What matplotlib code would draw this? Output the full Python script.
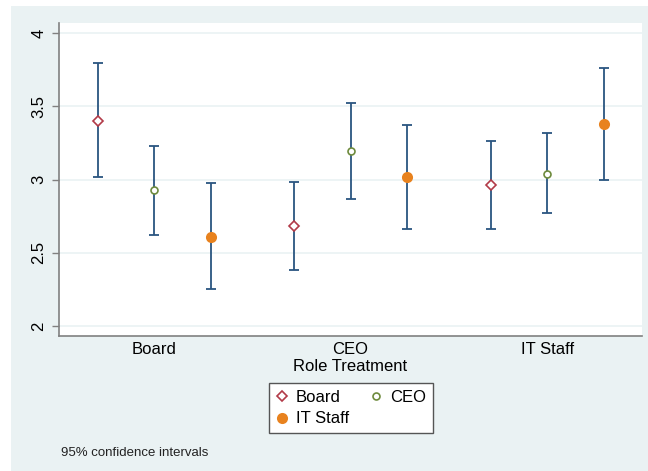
import numpy as np
import matplotlib
matplotlib.use("Agg")
import matplotlib.pyplot as plt
from matplotlib.patches import Rectangle
from matplotlib.lines import Line2D

plt.rcParams["font.family"] = ["Liberation Sans", "DejaVu Sans"]

# role treatment groups on the x axis
groups = ["Board", "CEO", "IT Staff"]
series = ["Board", "CEO", "IT Staff"]

# point estimates and 95% CI bounds, one value per group
board_mean = [3.40, 2.685, 2.96]
board_lo = [3.015, 2.385, 2.66]
board_hi = [3.795, 2.985, 3.265]

ceo_mean = [2.925, 3.195, 3.04]
ceo_lo = [2.62, 2.87, 2.77]
ceo_hi = [3.23, 3.525, 3.32]

it_mean = [2.61, 3.015, 3.38]
it_lo = [2.25, 2.66, 3.0]
it_hi = [2.975, 3.375, 3.76]

BG = "#eaf2f3"
NAVY = "#2a5580"

fig = plt.figure(figsize=(6.48, 4.71), dpi=100)
fig.patch.set_facecolor("white")
fig.patches.append(Rectangle((11 / 648, 0), 1, (471 - 6) / 471,
                             transform=fig.transFigure, facecolor=BG,
                             edgecolor="none", zorder=-10))

ax = fig.add_axes([59 / 648, (471 - 336) / 471, (642 - 59) / 648, (336 - 23) / 471])
ax.set_zorder(1)
ax.set_facecolor("white")

x = np.arange(1, len(groups) + 1)
offset = 0.2875
styles = [
    dict(marker="D", ms=5, mfc="white", mec="#b23a48", mew=1.2),
    dict(marker="o", ms=5, mfc="white", mec="#6e8b3d", mew=1.2),
    dict(marker="o", ms=8, mfc="#e8821e", mec="#e8821e", mew=0),
]
data = [(board_mean, board_lo, board_hi),
        (ceo_mean, ceo_lo, ceo_hi),
        (it_mean, it_lo, it_hi)]

handles = []
for i, ((m, lo, hi), st) in enumerate(zip(data, styles)):
    m, lo, hi = np.array(m), np.array(lo), np.array(hi)
    xs = x + (i - 1) * offset
    ax.errorbar(xs, m, yerr=[m - lo, hi - m], fmt="none", ecolor=NAVY,
                elinewidth=1.3, capsize=3.4, capthick=1.3, zorder=2)
    ax.plot(xs, m, linestyle="none", zorder=3, **st)
    handles.append(Line2D([], [], linestyle="none", **st))

ax.set_xlim(0.5165, 3.483)
ax.set_ylim(1.932, 4.068)
ax.set_yticks([2, 2.5, 3, 3.5, 4])
ax.set_yticklabels(["2", "2.5", "3", "3.5", "4"], rotation=90, va="center")
ax.set_xticks(x)
ax.set_xticklabels(groups)
ax.yaxis.grid(True, color=BG, linewidth=1.2)
ax.set_axisbelow(True)

for s in ["top", "right"]:
    ax.spines[s].set_visible(False)
for s in ["left", "bottom"]:
    ax.spines[s].set_color("#808080")
    ax.spines[s].set_linewidth(1.2)

ax.tick_params(axis="y", length=5, width=1, color="#808080", labelsize=12, pad=4)
ax.tick_params(axis="x", length=0, labelsize=12, pad=4)
ax.set_xlabel("Role Treatment", fontsize=12, labelpad=2)

# column-first fill: Board/IT Staff in col 1, CEO in col 2
order = [0, 2, 1]
leg = fig.legend([handles[k] for k in order], [series[k] for k in order],
                 ncol=2, loc="upper left",
                 bbox_to_anchor=(269 / 648, (471 - 383) / 471),
                 bbox_transform=fig.transFigure, fontsize=12,
                 frameon=True, fancybox=False, framealpha=1,
                 handlelength=0.7, handletextpad=0.5, columnspacing=1.3,
                 borderpad=0.4, labelspacing=0.4, borderaxespad=0)
leg.get_frame().set_edgecolor("#555555")
leg.get_frame().set_linewidth(1)
leg.get_frame().set_facecolor("white")

fig.text(61 / 648, (471 - 453) / 471, "95% confidence intervals",
         fontsize=9.5, va="center", ha="left", color="#222222")

fig.savefig("out.png", dpi=100, facecolor=fig.get_facecolor())
